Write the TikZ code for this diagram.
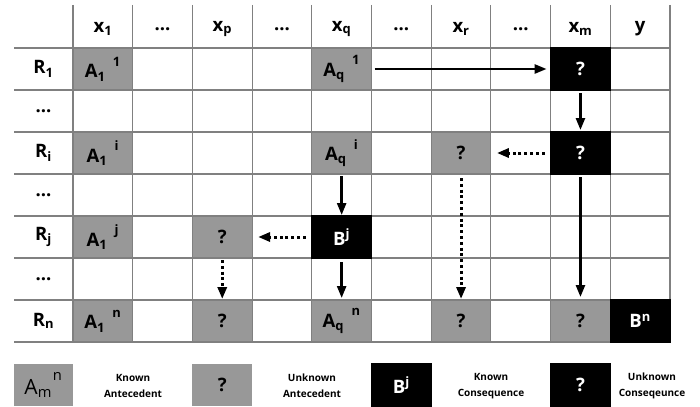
\documentclass[tikz,border=0pt]{standalone}
\usepackage{fontspec}
\setmainfont{Open Sans}
\usetikzlibrary{arrows.meta}

\definecolor{gridline}{RGB}{128,128,128}
\definecolor{cellgray}{RGB}{152,152,152}

% symbol with subscript, then a raised superscript (optional gap before it)
\newcommand{\subsup}[4][0.4em]{#2\textsubscript{#3}\hspace{#1}\raisebox{0.3em}{\textsuperscript{#4}}}

\begin{document}
\begin{tikzpicture}[x=1pt,y=-1pt,
  font=\fontsize{18.5}{22}\selectfont\bfseries,
  cell/.style={rectangle, minimum width=59.7pt, minimum height=42pt,
    inner sep=0pt, outer sep=0pt, line width=1.1pt},
  known/.style={cell, fill=cellgray, draw=gridline},
  conseq/.style={cell, fill=black, draw=black, text=white},
  gridrule/.style={draw=gridline, line width=1.1pt},
  flow/.style={line width=2.5pt, -{Triangle[length=12pt,width=9pt]}},
  dotflow/.style={flow, line width=3pt, dash pattern=on 3pt off 2.8pt},
  legendtext/.style={align=center, font=\fontsize{10}{16}\selectfont\bfseries}
]
% canvas
\fill[white] (0,0) rectangle (700,406);

% grid rules
\foreach \yy in {48,90,...,342}
  \draw[gridrule] (14,\yy) -- (670,\yy);
\foreach \i in {0,...,10}
  \draw[gridrule] ({73+\i*59.7},5) -- ({73+\i*59.7},342);

% column headers
\node (h1)  at (102.85,29) {x\textsubscript{1}};
\node (h2)  at (162.55,29) {...};
\node (h3)  at (222.25,29) {x\textsubscript{p}};
\node (h4)  at (281.95,29) {...};
\node (h5)  at (341.65,29) {x\textsubscript{q}};
\node (h6)  at (401.35,29) {...};
\node (h7)  at (461.05,29) {x\textsubscript{r}};
\node (h8)  at (520.75,29) {...};
\node (h9)  at (580.45,29) {x\textsubscript{m}};
\node (h10) at (640.15,29) {y};

% row labels
\node (r1) at (43.5,69)  {R\textsubscript{1}};
\node (r2) at (43.5,111) {...};
\node (r3) at (43.5,153) {R\textsubscript{i}};
\node (r4) at (43.5,195) {...};
\node (r5) at (43.5,237) {R\textsubscript{j}};
\node (r6) at (43.5,279) {...};
\node (r7) at (43.5,321) {R\textsubscript{n}};

% row R1
\node[known]  (a11) at (102.85,69) {\subsup{A}{1}{1}};
\node[known]  (aq1) at (341.65,69) {\subsup{A}{q}{1}};
\node[conseq] (xm1) at (580.45,69) {?};
% row Ri
\node[known]  (a1i) at (102.85,153) {\subsup{A}{1}{i}};
\node[known]  (aqi) at (341.65,153) {\subsup{A}{q}{i}};
\node[known]  (xri) at (461.05,153) {?};
\node[conseq] (xmi) at (580.45,153) {?};
% row Rj
\node[known]  (a1j) at (102.85,237) {\subsup{A}{1}{j}};
\node[known]  (xpj) at (222.25,237) {?};
\node[conseq] (bj)  at (341.65,237) {B\textsuperscript{j}};
% row Rn
\node[known]  (a1n) at (102.85,321) {\subsup{A}{1}{n}};
\node[known]  (xpn) at (222.25,321) {?};
\node[known]  (aqn) at (341.65,321) {\subsup{A}{q}{n}};
\node[known]  (xrn) at (461.05,321) {?};
\node[known]  (xmn) at (580.45,321) {?};
\node[conseq] (bn)  at (640.15,321) {B\textsuperscript{n}};

% inference flow
\draw[flow, shorten <=3pt, shorten >=4pt] (aq1.east) -- (xm1.west);
\draw[flow, shorten <=3pt, shorten >=2pt] (xm1.south) -- (xmi.north);
\draw[dotflow, shorten <=6pt, shorten >=6pt] (xmi.west) -- (xri.east);
\draw[dotflow, shorten <=4pt, shorten >=1pt] (xri.south) -- (xrn.north);
\draw[flow, shorten <=3pt, shorten >=3pt] (xmi.south) -- (xmn.north);
\draw[flow, shorten <=2pt, shorten >=1pt] (aqi.south) -- (bj.north);
\draw[dotflow, shorten <=6pt, shorten >=6pt] (bj.west) -- (xpj.east);
\draw[dotflow, shorten <=2pt, shorten >=1pt] (xpj.south) -- (xpn.north);
\draw[flow, shorten <=4pt, shorten >=2pt] (bj.south) -- (aqn.north);

% legend
\node[known, draw=none, font=\fontsize{21}{24}\selectfont] (lg1) at (43.5,385) {\subsup[0.05em]{A}{m}{n}};
\node[legendtext] (lt1) at (133,386) {Known\\Antecedent};
\node[known, draw=none] (lg2) at (222.25,385) {?};
\node[legendtext] (lt2) at (312,386) {Unknown\\Antecedent};
\node[conseq] (lg3) at (401.35,385) {B\textsuperscript{j}};
\node[legendtext] (lt3) at (491,386) {Known\\Consequence};
\node[conseq] (lg4) at (580.45,385) {?};
\node[legendtext] (lt4) at (652,386) {Unknown\\Conseqeunce};
\end{tikzpicture}
\end{document}
